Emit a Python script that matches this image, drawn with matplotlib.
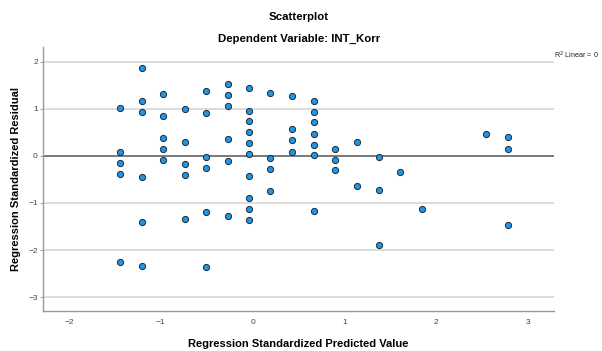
import matplotlib
matplotlib.use("Agg")
import matplotlib.pyplot as plt

plt.rcParams['font.family'] = ['Liberation Sans', 'DejaVu Sans']

# Predicted values (x) and residuals (y), grouped by column
col_x = [-1.45, -1.21, -0.975, -0.74, -0.51, -0.27, -0.04, 0.194, 0.43, 0.666,
         0.90, 1.14, 1.375, 1.607, 1.843, 2.544, 2.78]
col_y = [
    [1.02, 0.085, -0.15, -0.38, -2.245],
    [1.86, 1.16, 0.93, -0.45, -1.40, -2.33],
    [1.31, 0.84, 0.375, 0.14, -0.09],
    [0.99, 0.29, -0.18, -0.41, -1.34],
    [1.37, 0.905, -0.03, -0.26, -1.19, -2.36],
    [1.52, 1.29, 1.05, 0.35, -0.11, -1.28],
    [1.43, 0.96, 0.735, 0.50, 0.27, 0.035, -0.43, -0.90, -1.13, -1.36],
    [1.34, -0.055, -0.28, -0.755],
    [1.26, 0.56, 0.33, 0.09],
    [1.17, 0.94, 0.71, 0.47, 0.23, 0.01, -1.16],
    [0.155, -0.08, -0.31],
    [0.30, -0.635],
    [-0.03, -0.72, -1.885],
    [-0.345],
    [-1.13],
    [0.47],
    [0.39, 0.155, -1.475],
]
xs = [x for x, ys in zip(col_x, col_y) for _ in ys]
ys = [y for yl in col_y for y in yl]

x_ticks = [-2, -1, 0, 1, 2, 3]
y_ticks = [-3, -2, -1, 0, 1, 2]

fig = plt.figure(figsize=(6.02, 3.51), dpi=100)
ax = fig.add_axes([0.072, 0.114, 0.848, 0.751])

for t in y_ticks:
    if t != 0:
        ax.axhline(t, color='#d9d9d9', lw=1.3, zorder=1)
ax.axhline(0, color='#555555', lw=1.1, zorder=2)

ax.scatter(xs, ys, s=20, color='#2196e6', edgecolors='#1a2a3a', linewidths=0.7, zorder=3)

ax.set_xlim(-2.28, 3.28)
ax.set_ylim(-3.29, 2.30)
ax.set_xticks(x_ticks)
ax.set_yticks(y_ticks)
ax.set_xticklabels([str(t).replace('-', '\u2212') for t in x_ticks])
ax.set_yticklabels([str(t).replace('-', '\u2212') for t in y_ticks])
ax.tick_params(axis='x', length=0, labelsize=6, colors='#444444', pad=6)
ax.tick_params(axis='y', length=2, labelsize=6, colors='#444444', pad=2, width=0.6)
ax.tick_params(axis='y', color='#888888')

for s in ['top', 'right']:
    ax.spines[s].set_visible(False)
for s in ['left', 'bottom']:
    ax.spines[s].set_color('#999999')
    ax.spines[s].set_linewidth(1.0)

ax.set_xlabel('Regression Standardized Predicted Value', fontsize=8, fontweight='bold', labelpad=9)
ax.set_ylabel('Regression Standardized Residual', fontsize=8, fontweight='bold', labelpad=5)

fig.text(299 / 602, 1 - 17 / 351, 'Scatterplot', ha='center', va='center', fontsize=8.2, fontweight='bold')
fig.text(299 / 602, 1 - 39 / 351, 'Dependent Variable: INT_Korr', ha='center', va='center', fontsize=8.2, fontweight='bold')
fig.text(554 / 602, 1 - 55 / 351, r'R$^2$ Linear = 0', ha='left', va='center', fontsize=5.2, color='#222222')

fig.savefig('out.png', dpi=100)
